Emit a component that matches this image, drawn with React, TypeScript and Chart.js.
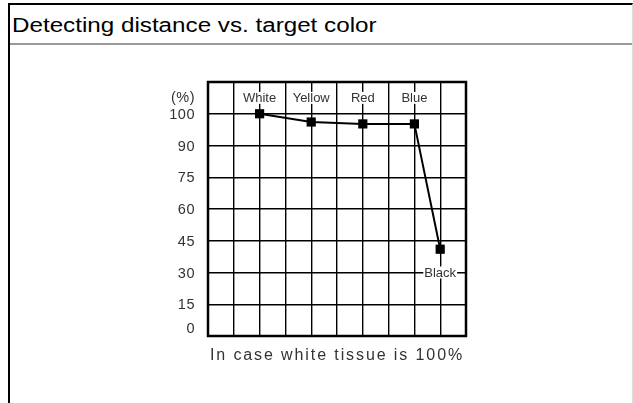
import React, { useEffect, useRef } from "react";
import { Chart, registerables } from "chart.js";

Chart.register(...registerables);

const TITLE = "Detecting distance vs. target color";
const CAPTION = "In case white tissue is 100%";
const categories = ["White", "Yellow", "Red", "Blue", "Black"];
const columns = [2, 4, 6, 8, 9];
const values = [100, 97.4, 96.8, 96.8, 41];
const yTickLabels = ["0", "15", "30", "45", "60", "75", "90", "100"];
const yTickValues = [0, 15, 30, 45, 60, 75, 90, 100];
const Y_UNIT = "(%)";

// piecewise axis: 0..90 in steps of 15 per row, 90..100 one row
function toRow(v: number): number {
  return v >= 90 ? 6 + (v - 90) / 10 : v / 15;
}

const FONT = '"Liberation Sans", Arial, sans-serif';

const labelPlugin = {
  id: "labels",
  beforeDatasetsDraw(chart: any) {
    const ctx = chart.ctx;
    const xs = chart.scales.x;
    const ys = chart.scales.y;
    ctx.save();
    ctx.font = `13px ${FONT}`;
    ctx.textAlign = "center";
    ctx.textBaseline = "middle";
    categories.forEach((c, i) => {
      const px = xs.getPixelForValue(columns[i]);
      const isLast = i === categories.length - 1;
      const py = isLast ? ys.getPixelForValue(2) : ys.getPixelForValue(7.5);
      const w = ctx.measureText(c).width;
      ctx.fillStyle = "#fff";
      ctx.fillRect(px - w / 2 - 1, py - 6, w + 2, 12);
      ctx.fillStyle = "#333";
      ctx.fillText(c, px, py + 1);
    });
    ctx.restore();
  },
  afterDatasetsDraw(chart: any) {
    const ctx = chart.ctx;
    const a = chart.chartArea;
    const ys = chart.scales.y;
    ctx.save();
    ctx.strokeStyle = "#000";
    ctx.lineWidth = 2.5;
    ctx.strokeRect(a.left, a.top, a.right - a.left, a.bottom - a.top);
    ctx.font = `14.5px ${FONT}`;
    (ctx as any).letterSpacing = "0.5px";
    ctx.fillStyle = "#333";
    ctx.textAlign = "right";
    ctx.textBaseline = "middle";
    const lx = a.left - 13;
    yTickLabels.forEach((t, i) => {
      let r = toRow(yTickValues[i]);
      if (r === 0) r = 0.25;
      ctx.fillText(t, lx, ys.getPixelForValue(r) + 1);
    });
    ctx.fillText(Y_UNIT, lx, ys.getPixelForValue(7.5));
    ctx.restore();
  },
};

export default function App() {
  const ref = useRef<HTMLCanvasElement>(null);
  useEffect(() => {
    if (!ref.current) return;
    const chart = new Chart(ref.current, {
      type: "line",
      data: {
        datasets: [
          {
            data: values.map((v, i) => ({ x: columns[i], y: toRow(v) })),
            borderColor: "#000",
            backgroundColor: "#000",
            borderWidth: 2,
            pointStyle: "rect",
            pointRadius: 6.5,
            pointBorderWidth: 0,
            tension: 0,
          },
        ],
      },
      options: {
        animation: false,
        responsive: false,
        devicePixelRatio: 1,
        layout: { padding: { left: 208, top: 82, right: 167, bottom: 67 } },
        plugins: { legend: { display: false }, tooltip: { enabled: false }, title: { display: false } },
        scales: {
          x: {
            type: "linear",
            min: 0,
            max: 10,
            ticks: { display: false, stepSize: 1 },
            grid: { color: "#000", lineWidth: 1.4, drawTicks: false },
            border: { display: false },
          },
          y: {
            type: "linear",
            min: 0,
            max: 8,
            ticks: { display: false, stepSize: 1 },
            grid: { color: "#000", lineWidth: 1.4, drawTicks: false },
            border: { display: false },
          },
        },
      },
      plugins: [labelPlugin],
    } as any);
    return () => chart.destroy();
  }, []);

  return (
    <div style={{ position: "absolute", left: 0, top: 0, width: 633, height: 403, overflow: "hidden", background: "#fff" }}>
      <div
        style={{
          position: "absolute",
          left: 8,
          top: 3,
          width: 622,
          height: 420,
          borderTop: "2px solid #000",
          borderLeft: "2px solid #000",
          borderRight: "1px solid #ddd",
        }}
      />
      <div style={{ position: "absolute", left: 10, top: 43, width: 622, height: 0, borderTop: "2px solid #999" }} />
      <div
        style={{
          position: "absolute",
          left: 12,
          top: 15,
          font: `20px ${FONT}`,
          lineHeight: "20px",
          color: "#000",
          whiteSpace: "nowrap",
          transform: "scaleX(1.21)",
          transformOrigin: "0 0",
        }}
      >
        {TITLE}
      </div>
      <canvas ref={ref} width={633} height={403} style={{ position: "absolute", left: 0, top: 0, width: 633, height: 403 }} />
      <div
        style={{
          position: "absolute",
          left: 137,
          width: 400,
          top: 347,
          textAlign: "center",
          font: `16px ${FONT}`,
          lineHeight: "16px",
          letterSpacing: "1.9px",
          color: "#333",
          whiteSpace: "nowrap",
        }}
      >
        {CAPTION}
      </div>
    </div>
  );
}
